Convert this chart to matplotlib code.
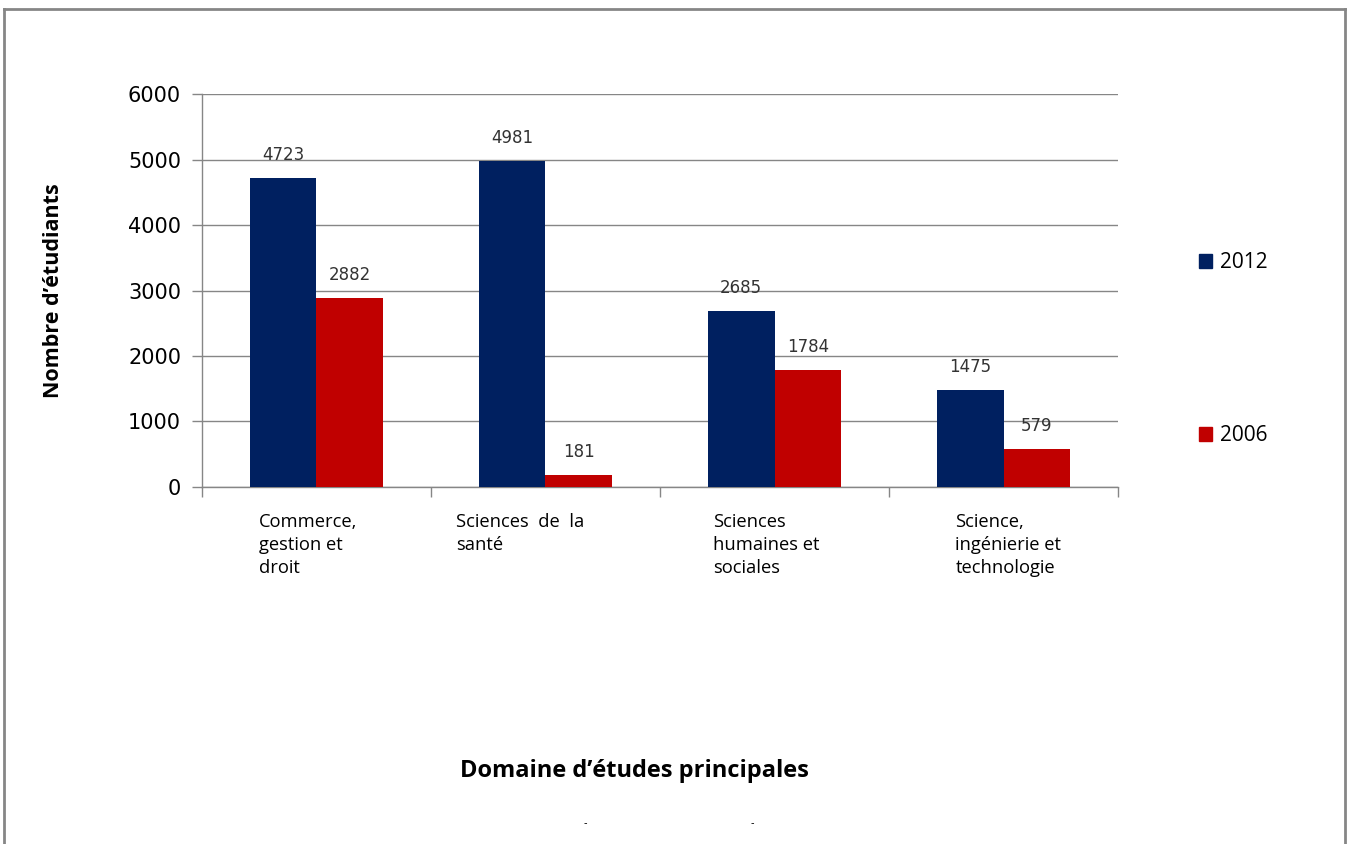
import matplotlib
matplotlib.use('Agg')
import matplotlib.pyplot as plt
from matplotlib.patches import Patch
from matplotlib.lines import Line2D
import numpy as np

# data
categories = ["Commerce,\ngestion et\ndroit",
              "Sciences  de  la\nsanté",
              "Sciences\nhumaines et\nsociales",
              "Science,\ningénierie et\ntechnologie"]
values_2012 = [4723, 4981, 2685, 1475]
values_2006 = [2882, 181, 1784, 579]
series_names = ["2012", "2006"]

# where each category text starts, relative to the category centre
label_offsets = [-0.25, -0.39, -0.27, -0.21]

blue = '#002060'
red = '#C00000'
gray = '#868686'

fig = plt.figure(figsize=(13.49, 8.44), dpi=100)
ax = fig.add_axes([0.1497, 0.4230, 0.6791, 0.4656])

x = np.arange(len(categories))
w = 0.29
b1 = ax.bar(x - w / 2, values_2012, w, color=blue, label=series_names[0], zorder=3)
b2 = ax.bar(x + w / 2, values_2006, w, color=red, label=series_names[1], zorder=3)

for bars, vals in ((b1, values_2012), (b2, values_2006)):
    for rect, v in zip(bars, vals):
        ax.annotate(str(v), (rect.get_x() + rect.get_width() / 2, v),
                    xytext=(0, 10), textcoords='offset points',
                    ha='center', va='bottom', fontsize=12, color='#333333',
                    family='DejaVu Sans')

ax.set_xlim(-0.5, len(categories) - 0.5)
ax.set_ylim(0, 6000)
ax.set_yticks(np.arange(0, 6001, 1000))
ax.set_xticks(np.arange(-0.5, len(categories), 1.0))
ax.set_xticklabels([])
ax.tick_params(axis='both', colors=gray, length=7, width=1)
ax.tick_params(axis='y', labelcolor='black', labelsize=15, pad=8,
               labelfontfamily='DejaVu Sans')

ax.grid(axis='y', color=gray, lw=1, zorder=0)
for s in ('top', 'right'):
    ax.spines[s].set_visible(False)
for s in ('left', 'bottom'):
    ax.spines[s].set_color(gray)
    ax.spines[s].set_linewidth(1)

for i, (cat, off) in enumerate(zip(categories, label_offsets)):
    ax.text(i + off, -0.065, cat, transform=ax.get_xaxis_transform(),
            ha='left', va='top', fontsize=13.2, family='Open Sans',
            linespacing=1.38)

ax.set_ylabel("Nombre d’étudiants", fontsize=15.5, fontweight='bold',
              family='Open Sans')
ax.yaxis.set_label_coords(-0.151, 0.5)
fig.text(0.47, 0.086, "Domaine d’études principales", fontsize=17,
         fontweight='bold', family='Open Sans', ha='center', va='center')

# stray dashes under the axis title
fig.text(0.434, 0.025, "-", fontsize=7, ha='center', va='center')
fig.text(0.558, 0.025, "-", fontsize=7, ha='center', va='center')

handles = [Patch(color=blue), Patch(color=red)]
leg = ax.legend(handles, series_names, loc='upper left',
                bbox_to_anchor=(1.068, 0.645), frameon=False,
                handlelength=0.6, handleheight=0.6,
                handletextpad=0.4, labelspacing=7.3,
                prop={'family': 'Open Sans', 'size': 15})

# outer frame
fig.add_artist(Line2D([0.003, 0.997], [0.989, 0.989], color=gray, lw=2, transform=fig.transFigure))
fig.add_artist(Line2D([0.003, 0.003], [0.0, 0.989], color=gray, lw=2, transform=fig.transFigure))
fig.add_artist(Line2D([0.997, 0.997], [0.0, 0.989], color=gray, lw=2, transform=fig.transFigure))

fig.savefig('out.png', dpi=100)
